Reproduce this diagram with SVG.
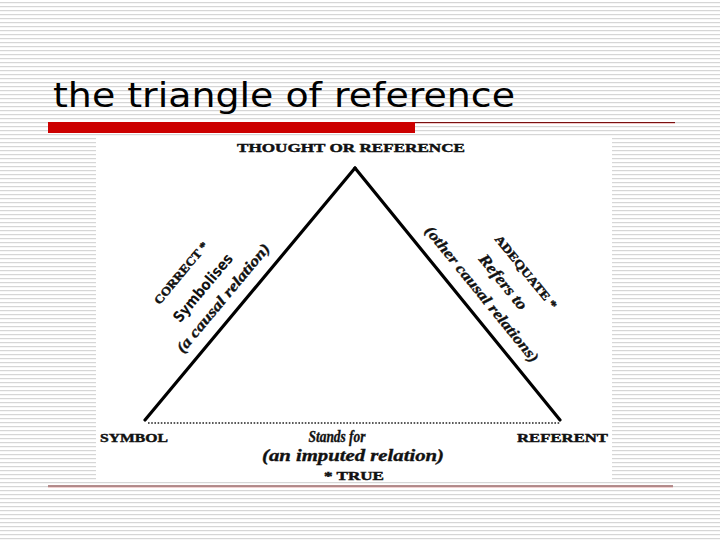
<svg xmlns="http://www.w3.org/2000/svg" width="720" height="540" viewBox="0 0 720 540">
  <defs>
    <pattern id="stripes" x="0" y="0" width="8" height="4" patternUnits="userSpaceOnUse">
      <rect x="0" y="0" width="8" height="4" fill="#ffffff"/>
      <rect x="0" y="2" width="8" height="1.2" fill="#d6d6d6"/>
    </pattern>
  </defs>
  <style>
    .caps { font-family: "Liberation Serif", "DejaVu Serif", serif; font-weight: bold; fill: #111; stroke: #111; stroke-width: 0.45; }
    .ital { font-family: "Liberation Serif", "DejaVu Serif", serif; font-style: italic; font-weight: bold; fill: #111; stroke: #111; stroke-width: 0.35; }
    .sans { font-family: "DejaVu Sans", "Liberation Sans", sans-serif; font-weight: bold; fill: #111; }
    .side { stroke: #000; stroke-width: 3.2; stroke-linecap: round; fill: none; }
  </style>

  <!-- background -->
  <rect x="0" y="0" width="720" height="540" fill="url(#stripes)"/>

  <!-- title -->
  <g id="title">
    <text x="53" y="107" font-family="DejaVu Sans, Verdana, sans-serif" font-size="34" fill="#000" textLength="462" lengthAdjust="spacingAndGlyphs">the triangle of reference</text>
    <rect x="48" y="122" width="367" height="11" fill="#cc0000"/>
    <line x1="415" y1="122.5" x2="675" y2="122.5" stroke="#7a1010" stroke-width="1"/>
    <line x1="415" y1="123.5" x2="675" y2="123.5" stroke="#f0c8c8" stroke-width="1"/>
  </g>

  <!-- picture area -->
  <rect x="96" y="136" width="516" height="344" fill="#ffffff"/>

  <!-- bottom rule -->
  <line x1="48" y1="486" x2="673" y2="486" stroke="#6a1a1a" stroke-width="1"/>
  <line x1="48" y1="487.3" x2="673" y2="487.3" stroke="#f0c8c8" stroke-width="1"/>

  <!-- connectors -->
  <g id="connectors">
    <line class="side" x1="145" y1="420" x2="355" y2="168"/>
    <line class="side" x1="355" y1="168" x2="560" y2="420"/>
    <line x1="148" y1="423" x2="560" y2="423" stroke="#222" stroke-width="1.6" stroke-dasharray="1.6 1.6"/>
  </g>

  <!-- nodes -->
  <g id="thought">
    <text class="caps" x="351" y="152" font-size="13" text-anchor="middle" textLength="228" lengthAdjust="spacingAndGlyphs">THOUGHT  OR  REFERENCE</text>
  </g>
  <g id="symbol">
    <text class="caps" x="100" y="442" font-size="13" textLength="68" lengthAdjust="spacingAndGlyphs">SYMBOL</text>
  </g>
  <g id="referent">
    <text class="caps" x="517" y="442" font-size="13" textLength="91" lengthAdjust="spacingAndGlyphs">REFERENT</text>
  </g>

  <!-- left side label -->
  <g id="label-symbolises">
    <g transform="translate(181,273) rotate(-50.2)">
      <text class="caps" x="0" y="4" font-size="12" text-anchor="middle" textLength="77" lengthAdjust="spacingAndGlyphs">CORRECT *</text>
    </g>
    <g transform="translate(203,288) rotate(-50.2)">
      <text class="sans" x="0" y="5" font-size="15" text-anchor="middle" textLength="84" lengthAdjust="spacingAndGlyphs">Symbolises</text>
    </g>
    <g transform="translate(223,298) rotate(-50.2)">
      <text class="ital" x="0" y="5" font-size="15" text-anchor="middle" textLength="137" lengthAdjust="spacingAndGlyphs">(a causal relation)</text>
    </g>
  </g>

  <!-- right side label -->
  <g id="label-refers">
    <g transform="translate(526,272) rotate(50.9)">
      <text class="caps" x="0" y="4" font-size="12" text-anchor="middle" textLength="91" lengthAdjust="spacingAndGlyphs">ADEQUATE *</text>
    </g>
    <g transform="translate(503,282) rotate(50.9)">
      <text class="ital" x="0" y="5" font-size="16" text-anchor="middle" textLength="67" lengthAdjust="spacingAndGlyphs">Refers to</text>
    </g>
    <g transform="translate(482,294) rotate(50.9)">
      <text class="ital" x="0" y="5" font-size="15" text-anchor="middle" textLength="171" lengthAdjust="spacingAndGlyphs">(other causal relations)</text>
    </g>
  </g>

  <!-- bottom label -->
  <g id="label-stands">
    <text class="ital" x="337" y="442" font-size="16" text-anchor="middle" textLength="57" lengthAdjust="spacingAndGlyphs">Stands for</text>
    <text class="ital" x="353" y="461" font-size="16" text-anchor="middle" textLength="182" lengthAdjust="spacingAndGlyphs">(an imputed relation)</text>
    <text class="caps" x="354" y="480" font-size="12.5" text-anchor="middle" textLength="60" lengthAdjust="spacingAndGlyphs">* TRUE</text>
  </g>
</svg>
